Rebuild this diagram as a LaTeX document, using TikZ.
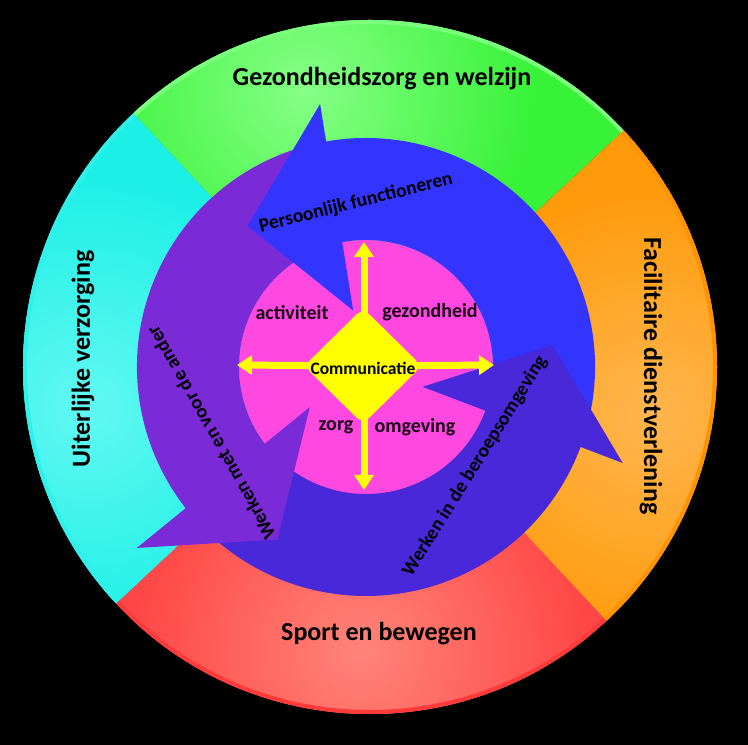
\documentclass[tikz,border=0pt]{standalone}
\usepackage{fontspec}
\setmainfont{Carlito}
\usetikzlibrary{shapes.geometric,arrows.meta}
\definecolor{grnB}{HTML}{38F238}
\definecolor{grnL}{HTML}{86FF86}
\definecolor{grnR}{HTML}{7CFF7C}
\definecolor{cyaB}{HTML}{1CF0E6}
\definecolor{cyaL}{HTML}{62F8F2}
\definecolor{cyaR}{HTML}{30F0EA}
\definecolor{orgB}{HTML}{FF9A0A}
\definecolor{orgL}{HTML}{FFB64E}
\definecolor{orgR}{HTML}{FF9200}
\definecolor{redB}{HTML}{FF4646}
\definecolor{redL}{HTML}{FF8478}
\definecolor{redR}{HTML}{FF3A3A}
\definecolor{bluec}{HTML}{3434FF}
\definecolor{purc}{HTML}{7A2AD6}
\definecolor{indc}{HTML}{4828D8}
\definecolor{pinkc}{HTML}{FF48E0}
\definecolor{yelc}{HTML}{FFFF00}
\definecolor{darktxt}{HTML}{1A0018}
\tikzset{
  lbl/.style={font=\fontsize{20}{22}\selectfont\bfseries, text=darktxt, inner sep=0pt},
  commlbl/.style={font=\fontsize{17.5}{20}\selectfont\bfseries, text=black, inner sep=0pt},
  ringlbl/.style={font=\fontsize{19.5}{21}\selectfont\bfseries, text=black, inner sep=0pt},
  biglbl/.style={font=\fontsize{26}{28}\selectfont\bfseries, text=black, inner sep=0pt},
  yarrow/.style={draw=yelc, line width=7pt, -{Triangle[width=19pt,length=15pt]}},
  diamondbox/.style={diamond, minimum width=118pt, minimum height=116pt, inner sep=0pt, fill=yelc, rounded corners=9pt}
}
\begin{document}
\begin{tikzpicture}[x=1pt,y=1pt]
\useasboundingbox (0,0) rectangle (748,745);
\fill[black] (0,0) rectangle (748,745);

% ---- outer segments ----
\begin{scope}[shift={(370,378)}]
  \foreach \a/\b/\cb/\cl/\cr/\m in {43/133/grnB/grnL/grnR/103, 133/223/cyaB/cyaL/cyaR/188, 223/313/redB/redL/redR/268, 313/403/orgB/orgL/orgR/350}{
    \begin{scope}
      \clip (0,0) -- (\a:347pt) arc[start angle=\a, end angle=\b, radius=347pt] -- cycle;
      \fill[\cb] (-350,-350) rectangle (350,350);
      \shade[inner color=\cl, outer color=\cb] (\m:285pt) circle (230pt);
      \draw[\cr, line width=4pt] (\a:345pt) arc[start angle=\a, end angle=\b, radius=345pt];
    \end{scope}
  }
\end{scope}

% ---- inner disc and circular arrows ----
\begin{scope}[shift={(366,378)}]
  \fill[pinkc] (0,0) circle (127pt);
  % bodies
  \fill[bluec] (-16:229pt) arc[start angle=-16, end angle=104, radius=229pt]
     -- (104:127pt) arc[start angle=104, end angle=-16, radius=127pt] -- cycle;
  \fill[purc] (104:229pt) arc[start angle=104, end angle=222, radius=229pt]
     -- (222:127pt) arc[start angle=222, end angle=104, radius=127pt] -- cycle;
  \fill[indc] (221:229pt) arc[start angle=221, end angle=345, radius=229pt]
     -- (345:127pt) arc[start angle=345, end angle=221, radius=127pt] -- cycle;
  % heads
  \fill[bluec] (99.9:267pt) -- (130:184pt) -- (102.8:58pt) -- cycle;
  \fill[purc] (218.3:292pt) -- (242.8:194pt) -- (215.5:69pt) -- cycle;
  \fill[indc] (-20.5:274pt) -- (6.7:188pt) -- (-19.3:60pt) -- cycle;
\end{scope}

% ---- yellow cross of arrows and diamond ----
\coordinate (cc) at (364,379);
\coordinate (tipup) at (364,503);
\coordinate (tipdown) at (364,255);
\coordinate (tipleft) at (237,380);
\coordinate (tipright) at (494,380);
\draw[yarrow] (cc) -- (tipup);
\draw[yarrow] (cc) -- (tipdown);
\draw[yarrow] (cc) -- (tipleft);
\draw[yarrow] (cc) -- (tipright);
\node[diamondbox] (comm) at (363,379) {};
\node[commlbl] (commtext) at (363,377) {Communicatie};

% ---- inner labels ----
\node[lbl] (act) at (292,432) {activiteit};
\node[lbl] (gez) at (430,433) {gezondheid};
\node[lbl] (zorg) at (336,318) {zorg};
\node[lbl] (omg) at (415,318) {omgeving};

% ---- ring labels ----
\node[ringlbl, rotate=14] (pf) at (356,542) {Persoonlijk functioneren};
\node[ringlbl, rotate=119.5] (wmv) at (211,312) {Werken met en voor de ander};
\node[ringlbl, rotate=58] (wib) at (475,279) {Werken in de beroepsomgeving};

% ---- outer labels ----
\node[biglbl] (gzw) at (382,666) {Gezondheidszorg en welzijn};
\node[biglbl] (seb) at (379,111) {Sport en bewegen};
\node[biglbl, rotate=90] (uv) at (83,386) {Uiterlijke verzorging};
\node[biglbl, rotate=-90] (fd) at (651,369) {Facilitaire dienstverlening};
\end{tikzpicture}
\end{document}
